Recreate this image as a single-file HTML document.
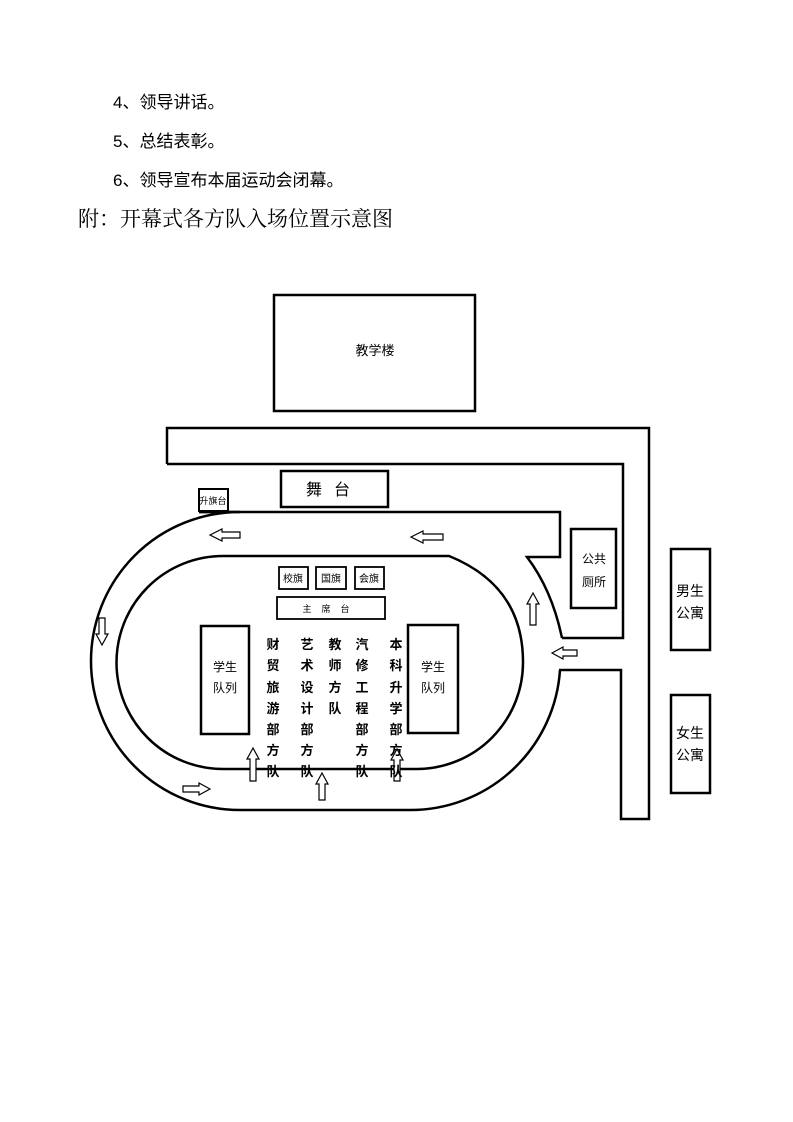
<!DOCTYPE html>
<html><head><meta charset="utf-8"><style>
body{margin:0;background:#fff;width:793px;height:1122px;overflow:hidden}
svg{display:block}
</style></head><body>
<svg width="793" height="1122" viewBox="0 0 793 1122" xmlns="http://www.w3.org/2000/svg" font-family="Liberation Sans, Noto Sans CJK SC, sans-serif">
<g font-size="17" fill="#000">
<text x="113" y="108">4、领导讲话。</text>
<text x="113" y="147">5、总结表彰。</text>
<text x="113" y="186">6、领导宣布本届运动会闭幕。</text>
</g>
<text x="78" y="226" font-size="21" font-family="Liberation Serif, Noto Serif CJK SC, serif">附：开幕式各方队入场位置示意图</text>

<g fill="none" stroke="#000" stroke-width="2.5">
<rect x="274" y="295" width="201" height="116"/>
<polyline points="167,464 167,428 649,428 649,819 621,819 621,670 559,670"/>
<polyline points="167,464 623,464 623,638 562,638"/>
<rect x="281" y="471" width="107" height="36"/>
<rect x="199" y="489" width="29" height="22" stroke-width="2"/>
<path d="M199,512 L560,512 L560,557 L527,557 Q552,590 562,638"/>
<path d="M560,670 A150,150 0 0 1 410,810 L240,810 A149,149 0 0 1 240,512 L199,512"/>
<path d="M449,556 L223,556 A106.5,106.5 0 0 0 223,769 L417,769 A106.5,106.5 0 0 0 523,662 Q523,586 449,556 Z"/>
<rect x="571" y="529" width="45" height="79"/>
<rect x="671" y="549" width="39" height="101"/>
<rect x="671" y="695" width="39" height="98"/>
<rect x="201" y="626" width="48" height="108"/>
<rect x="408" y="625" width="50" height="108"/>
</g>
<g fill="none" stroke="#000" stroke-width="1.8">
<rect x="279" y="567" width="29" height="22"/>
<rect x="316" y="567" width="30" height="22"/>
<rect x="355" y="567" width="29" height="22"/>
<rect x="277" y="597" width="108" height="22"/>
</g>
<g fill="#fff" stroke="#000" stroke-width="1.2">
<polygon points="210,535 222,529 222,532 240,532 240,538 222,538 222,541"/>
<polygon points="411,537 423,531 423,534 443,534 443,540 423,540 423,543"/>
<polygon points="552,653 563,647 563,650 577,650 577,656 563,656 563,659"/>
<polygon points="210,789 199,783 199,786 183,786 183,792 199,792 199,795"/>
<polygon points="102,645 96,634 99,634 99,618 105,618 105,634 108,634"/>
<polygon points="533,593 527,604 530,604 530,625 536,625 536,604 539,604"/>
<polygon points="253,748 247,759 250,759 250,781 256,781 256,759 259,759"/>
<polygon points="322,773 316,784 319,784 319,800 325,800 325,784 328,784"/>
<polygon points="397,749 391,760 394,760 394,781 400,781 400,760 403,760"/>
</g>

<g font-size="11" text-anchor="middle">
<text x="375" y="355" font-size="13">教学楼</text>
<text x="334" y="495" font-size="16" letter-spacing="12">舞台</text>
<text x="213" y="504" font-size="9">升旗台</text>
<text x="293" y="582" font-size="10">校旗</text>
<text x="331" y="582" font-size="10">国旗</text>
<text x="369" y="582" font-size="10">会旗</text>
<text x="331" y="612" font-size="9" letter-spacing="10">主席台</text>
<text x="594" y="563" font-size="12">公共</text>
<text x="594" y="586" font-size="12">厕所</text>
<text x="690" y="596" font-size="14">男生</text>
<text x="690" y="618" font-size="14">公寓</text>
<text x="690" y="738" font-size="14">女生</text>
<text x="690" y="760" font-size="14">公寓</text>
<text x="225" y="671" font-size="12">学生</text>
<text x="225" y="692" font-size="12">队列</text>
<text x="433" y="671" font-size="12">学生</text>
<text x="433" y="692" font-size="12">队列</text>
</g>
<g font-size="13" font-weight="bold" text-anchor="middle">
<text x="273" y="649">财</text><text x="273" y="670">贸</text><text x="273" y="692">旅</text><text x="273" y="713">游</text><text x="273" y="734">部</text><text x="273" y="755">方</text><text x="273" y="776">队</text>
<text x="307" y="649">艺</text><text x="307" y="670">术</text><text x="307" y="692">设</text><text x="307" y="713">计</text><text x="307" y="734">部</text><text x="307" y="755">方</text><text x="307" y="776">队</text>
<text x="335" y="649">教</text><text x="335" y="670">师</text><text x="335" y="692">方</text><text x="335" y="713">队</text>
<text x="362" y="649">汽</text><text x="362" y="670">修</text><text x="362" y="692">工</text><text x="362" y="713">程</text><text x="362" y="734">部</text><text x="362" y="755">方</text><text x="362" y="776">队</text>
<text x="396" y="649">本</text><text x="396" y="670">科</text><text x="396" y="692">升</text><text x="396" y="713">学</text><text x="396" y="734">部</text><text x="396" y="755">方</text><text x="396" y="776">队</text>
</g>
</svg>
</body></html>
